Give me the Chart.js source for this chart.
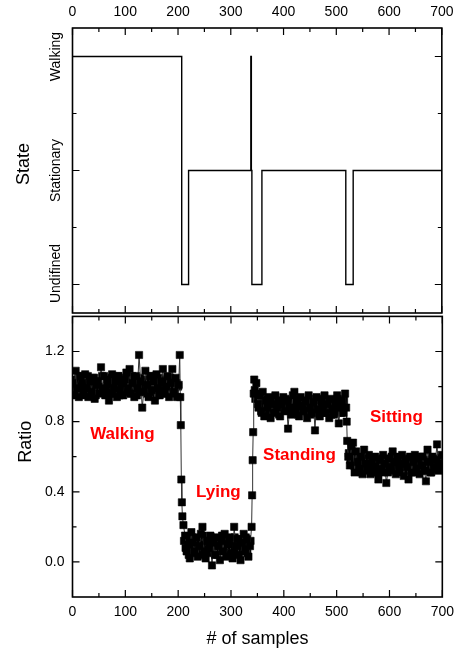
<!DOCTYPE html>
<html><head><meta charset="utf-8">
<script src="https://cdn.jsdelivr.net/npm/chart.js"></script>
<style>
html,body{margin:0;padding:0;background:#fff;}
#wrap{position:relative;width:461px;height:656px;overflow:hidden;background:#fff;}
canvas{position:absolute;left:0;}
#c1{top:0}
#c2{top:300px}
</style></head><body>
<div id="wrap"><canvas id="c1" width="461" height="330"></canvas><canvas id="c2" width="461" height="356"></canvas></div>
<script>
const FONT = "'Liberation Sans', Arial, Helvetica, sans-serif";

// ---------- data ----------
const xTickValues = [0, 100, 200, 300, 400, 500, 600, 700];
const xMinorValues = [50, 150, 250, 350, 450, 550, 650];

const stateNames = ['Undifined', 'Stationary', 'Walking'];
const stateLevels = [0, 1, 2];
const stateMinor = [0.5, 1.5];
const stateX = [0, 207, 220, 338, 339, 340, 359, 518, 532, 700];
const stateY = [2, 0, 1, 2, 1, 0, 1, 0, 1, 1];

const ratioTickValues = [0, 0.4, 0.8, 1.2];
const ratioMinorValues = [0.2, 0.6, 1.0];

// connected samples (line + markers)
const walkX = [0,3,6,9,12,15,18,21,24,27,30,33,36,39,42,45,48,51,54,57,60,63,66,69,72,75,78,81,84,87,90,93,96,99,102,105,108,111,114,117,120,123,126,129,132,135,138,141,144,147,150,153,156,159,162,165,168,171,174,177,180,183,186,189,192,195,198,201];
const walkY = [1.02,0.95,1.09,0.99, 0.94,1.06,1.02,0.98, 1.07,0.99,0.94,1.03, 0.97,1.05,0.93,1.01,
               1.03,0.96,1.11,0.99, 1.06,0.98,1.02,0.92, 0.96,1.07,0.99,1.03, 0.94,1.06,0.98,1.02,
               0.95,1.04,1.08,0.99, 1.10,0.96,1.02,0.94, 1.06,0.99,1.18,1.03, 0.88,0.97,1.09,1.01,
               0.94,1.06,0.98,1.03, 0.92,1.07,0.99,0.95, 1.03,1.10,0.96,1.00, 1.06,0.94,1.02,1.10,
               0.97,1.05,0.94,1.01];
const fallX = [203,204,205,206,207,208];
const fallY = [1.18,0.94,0.78,0.47,0.34,0.26];
const lyingX = [210,213,216,219,222,225,228,231,234,237,240,243,246,249,252,255,258,261,264,267,270,273,276,279,282,285,288,291,294,297,300,303,306,309,312,315,318,321,324,327,330,333,336,339];
const lyingY = [0.21,0.15,0.06,0.10, 0.02,0.17,0.11,0.06, 0.14,0.03,0.09,0.16, 0.20,0.06,0.02,0.12,
                0.08,0.15,-0.02,0.11, 0.04,0.14,0.09,0.01, 0.12,0.06,0.16,0.03, 0.10,0.14,0.05,0.02,
                0.20,0.09,0.13,0.04, 0.01,0.11,0.16,0.07, 0.13,0.03,0.09,0.20];
const riseX = [340,341,342,343,344];
const riseY = [0.38,0.58,0.74,0.96,1.04];
const standX = [345,348,351,354,357,360,363,366,369,372,375,378,381,384,387,390,393,396,399,402,405,408,411,414,417,420,423,426,429,432,435,438,441,444,447,450,453,456,459,462,465,468,471,474,477,480,483,486,489,492,495,498,501,504,507,510,513,516];
const standY = [0.98,1.02,0.90,0.95, 0.86,0.97,0.83,0.92, 0.88,0.94,0.82,0.90, 0.85,0.95,0.88,0.92,
                0.83,0.90,0.94,0.86, 0.92,0.76,0.88,0.84, 0.95,0.97,0.87,0.91, 0.83,0.94,0.89,0.86,
                0.92,0.82,0.95,0.88, 0.85,0.91,0.75,0.94, 0.87,0.83,0.92,0.89, 0.95,0.85,0.90,0.82,
                0.93,0.87,0.84,0.91, 0.95,0.79,0.88,0.92, 0.85,0.96];
const dropX = [518,519,520];
const dropY = [0.88,0.80,0.69];
const sitX = [522,525,528,531,534,537,540,543,546,549,552,555,558,561,564,567,570,573,576,579,582,585,588,591,594,597,600,603,606,609,612,615,618,621,624,627,630,633,636,639,642,645,648,651,654,657,660,663,666,669,672,675,678,681,684,687,690,693,696,699];
const sitY = [0.60,0.55,0.66,0.68, 0.51,0.63,0.57,0.53, 0.60,0.50,0.64,0.56, 0.53,0.61,0.50,0.57,
              0.54,0.60,0.51,0.47, 0.58,0.53,0.61,0.56, 0.45,0.51,0.59,0.54, 0.63,0.57,0.50,0.60,
              0.53,0.56,0.61,0.49, 0.58,0.54,0.47,0.60, 0.51,0.57,0.61,0.53, 0.59,0.50,0.55,0.60,
              0.52,0.46,0.64,0.57, 0.51,0.60,0.54,0.58, 0.67,0.52,0.56,0.61];

// in-between samples (markers only, they fill the dense bands)
const walk2X = [2,5,8,11,14,17,20,23,26,29,32,35,38,41,44,47,50,53,56,59,62,65,68,71,74,77,80,83,86,89,92,95,98,101,104,107,110,113,116,119,122,125,128,131,134,137,140,143,146,149,152,155,158,161,164,167,170,173,176,179,182,185,188,191,194,197,200];
const walk2Y = [0.99,1.04,0.96,1.06,1.00,0.95,1.04,0.97,1.01,1.06,
                0.96,1.02,0.98,1.05,0.95,1.03,1.00,0.97,1.06,0.99,
                0.95,1.04,1.01,0.97,1.05,0.96,1.02,0.99,1.06,0.95,
                1.03,1.00,0.97,1.05,0.98,1.02,0.96,1.06,0.99,1.03,
                0.95,1.01,1.05,0.97,1.00,1.04,0.96,1.02,0.99,1.06,
                0.97,1.03,0.95,1.01,1.05,0.98,1.02,0.96,1.04,1.00,
                0.97,1.05,0.99,1.03,0.96,1.02,1.00];
const lying2X = [211,214,217,220,223,226,229,232,235,238,241,244,247,250,253,256,259,262,265,268,271,274,277,280,283,286,289,292,295,298,301,304,307,310,313,316,319,322,325,328,331,334,337];
const lying2Y = [0.12,0.08,0.13,0.04,0.09,0.14,0.05,0.11,0.07,0.13,
                 0.04,0.10,0.15,0.07,0.12,0.05,0.10,0.14,0.06,0.09,
                 0.13,0.04,0.11,0.08,0.15,0.06,0.10,0.13,0.04,0.09,
                 0.12,0.07,0.14,0.05,0.10,0.13,0.06,0.11,0.08,0.14,
                 0.05,0.10,0.12];
const stand2X = [346,349,352,355,358,361,364,367,370,373,376,379,382,385,388,391,394,397,400,403,406,409,412,415,418,421,424,427,430,433,436,439,442,445,448,451,454,457,460,463,466,469,472,475,478,481,484,487,490,493,496,499,502,505,508,511,514];
const stand2Y = [0.93,0.96,0.88,0.92,0.85,0.90,0.93,0.87,0.91,0.84,
                 0.89,0.93,0.86,0.91,0.88,0.84,0.92,0.87,0.90,0.93,
                 0.86,0.89,0.92,0.85,0.90,0.87,0.93,0.84,0.91,0.88,
                 0.86,0.92,0.89,0.85,0.93,0.87,0.90,0.84,0.91,0.88,
                 0.92,0.86,0.89,0.93,0.85,0.90,0.87,0.92,0.84,0.89,
                 0.91,0.86,0.93,0.88,0.85,0.90,0.92];
const sit2X = [523,526,529,532,535,538,541,544,547,550,553,556,559,562,565,568,571,574,577,580,583,586,589,592,595,598,601,604,607,610,613,616,619,622,625,628,631,634,637,640,643,646,649,652,655,658,661,664,667,670,673,676,679,682,685,688,691,694,697];
const sit2Y = [0.62,0.58,0.63,0.55,0.60,0.53,0.58,0.55,0.51,0.59,
               0.54,0.57,0.52,0.59,0.55,0.51,0.58,0.54,0.57,0.52,
               0.55,0.59,0.51,0.56,0.53,0.58,0.55,0.60,0.52,0.57,
               0.54,0.59,0.51,0.56,0.53,0.57,0.55,0.52,0.59,0.54,
               0.57,0.51,0.55,0.58,0.53,0.56,0.60,0.52,0.55,0.58,
               0.54,0.57,0.51,0.56,0.59,0.53,0.57,0.55,0.59];

const activityNames = ['Walking', 'Lying', 'Standing', 'Sitting'];
const activityX = [94.5, 276, 429.5, 613];
const activityY = [0.73, 0.398, 0.607, 0.827];

// ---------- build ----------
const ratioX = [].concat(walkX, fallX, lyingX, riseX, standX, dropX, sitX);
const ratioY = [].concat(walkY, fallY, lyingY, riseY, standY, dropY, sitY);
const fillX = [].concat(walk2X, lying2X, stand2X, sit2X);
const fillY = [].concat(walk2Y, lying2Y, stand2Y, sit2Y);

Chart.defaults.font.family = FONT;
Chart.defaults.color = '#000';

const panelPlugin = {
  id: 'panel',
  afterDraw(chart, args, o) {
    const ctx = chart.ctx, a = chart.chartArea;
    const xs = chart.scales.x, ys = chart.scales.y;
    ctx.save();
    ctx.strokeStyle = '#000';
    ctx.lineWidth = 1.2;
    ctx.beginPath();
    const vt = (vals, len) => vals.forEach(v => {
      const p = xs.getPixelForValue(v);
      ctx.moveTo(p, a.top); ctx.lineTo(p, a.top + len);
      ctx.moveTo(p, a.bottom); ctx.lineTo(p, a.bottom - len);
    });
    const ht = (vals, len) => vals.forEach(v => {
      const p = ys.getPixelForValue(v);
      ctx.moveTo(a.left, p); ctx.lineTo(a.left + len, p);
      ctx.moveTo(a.right, p); ctx.lineTo(a.right - len, p);
    });
    vt(o.xMajor, 7); vt(o.xMinor, 4); ht(o.yMajor, 7); ht(o.yMinor, 4);
    ctx.stroke();
    ctx.lineWidth = 1.6;
    ctx.strokeRect(a.left, a.top, a.right - a.left, a.bottom - a.top);

    ctx.fillStyle = '#000';
    ctx.textAlign = 'center';
    ctx.textBaseline = 'middle';
    ctx.save();
    ctx.font = '18px ' + FONT;
    ctx.translate(o.titleX, o.titleY);
    ctx.rotate(-Math.PI / 2);
    ctx.fillText(o.title, 0, 0);
    ctx.restore();
    if (o.catNames) {
      ctx.font = '14px ' + FONT;
      o.catNames.forEach((n, i) => {
        const p = ys.getPixelForValue(o.catValues[i]) + (o.catShift[i] || 0);
        ctx.save();
        ctx.translate(o.catX, p);
        ctx.rotate(-Math.PI / 2);
        ctx.fillText(n, 0, 0);
        ctx.restore();
      });
    }
    if (o.notes) {
      ctx.font = 'bold 17px ' + FONT;
      ctx.fillStyle = '#ff0000';
      o.notes.forEach((n, i) => {
        ctx.fillText(n, xs.getPixelForValue(o.notesX[i]), ys.getPixelForValue(o.notesY[i]));
      });
    }
    ctx.restore();
  }
};

const tickFont = {family: FONT, size: 14};
const markerStyle = {
  pointStyle: 'rect', pointRadius: 5.1,
  pointBackgroundColor: '#000', pointBorderColor: '#000', pointBorderWidth: 0.6
};

new Chart(document.getElementById('c1'), {
  type: 'line',
  data: {datasets: [{
    data: stateX.map((x, i) => ({x, y: stateY[i]})),
    stepped: 'before', borderColor: '#000', borderWidth: 1.4,
    pointRadius: 0, fill: false
  }]},
  options: {
    responsive: false, animation: false, events: [],
    layout: {padding: {left: 0, right: 16.5, top: 0, bottom: 17}},
    plugins: {
      legend: {display: false}, tooltip: {enabled: false},
      panel: {
        xMajor: xTickValues, xMinor: xMinorValues, yMajor: stateLevels, yMinor: stateMinor,
        title: 'State', titleX: 24.5, titleY: 164,
        catNames: stateNames, catValues: stateLevels, catShift: [-11, 0, 0], catX: 56
      }
    },
    scales: {
      x: {
        type: 'linear', position: 'top', min: 0, max: 700,
        grid: {display: false, drawTicks: false}, border: {display: false},
        afterBuildTicks: s => { s.ticks = xTickValues.map(v => ({value: v})); },
        afterFit: s => { s.height = 28; },
        ticks: {padding: 7.5, color: '#000', font: tickFont, maxRotation: 0, autoSkip: false}
      },
      y: {
        type: 'linear', min: -0.25, max: 2.25,
        grid: {display: false, drawTicks: false}, border: {display: false},
        afterBuildTicks: s => { s.ticks = stateLevels.map(v => ({value: v})); },
        afterFit: s => { s.width = 72.5; },
        ticks: {display: false}
      }
    }
  },
  plugins: [panelPlugin]
});

new Chart(document.getElementById('c2'), {
  type: 'line',
  data: {datasets: [
    Object.assign({
      data: ratioX.map((x, i) => ({x, y: ratioY[i]})),
      borderColor: '#333', borderWidth: 1, tension: 0, fill: false
    }, markerStyle),
    Object.assign({
      data: fillX.map((x, i) => ({x, y: fillY[i]})),
      showLine: false, fill: false
    }, markerStyle)
  ]},
  options: {
    responsive: false, animation: false, events: [],
    layout: {padding: {left: 0, right: 16.5, top: 13, bottom: 0}},
    plugins: {
      legend: {display: false}, tooltip: {enabled: false},
      panel: {
        xMajor: xTickValues, xMinor: xMinorValues, yMajor: ratioTickValues, yMinor: ratioMinorValues,
        title: 'Ratio', titleX: 25.8, titleY: 141.7,
        notes: activityNames, notesX: activityX, notesY: activityY
      }
    },
    scales: {
      x: {
        type: 'linear', position: 'bottom', min: 0, max: 700,
        grid: {display: false, drawTicks: false}, border: {display: false},
        afterBuildTicks: s => { s.ticks = xTickValues.map(v => ({value: v})); },
        afterFit: s => { s.height = 59; },
        ticks: {padding: 7, color: '#000', font: tickFont, maxRotation: 0, autoSkip: false},
        title: {display: true, text: '# of samples', color: '#000', font: {family: FONT, size: 18}, padding: {top: 0, bottom: 6}}
      },
      y: {
        type: 'linear', min: -0.2, max: 1.4,
        grid: {display: false, drawTicks: false}, border: {display: false},
        afterBuildTicks: s => { s.ticks = ratioTickValues.map(v => ({value: v})); },
        afterFit: s => { s.width = 72.5; },
        ticks: {padding: 8, color: '#000', font: tickFont, callback: v => Number(v).toFixed(1)}
      }
    }
  },
  plugins: [panelPlugin]
});
</script>
</body></html>
